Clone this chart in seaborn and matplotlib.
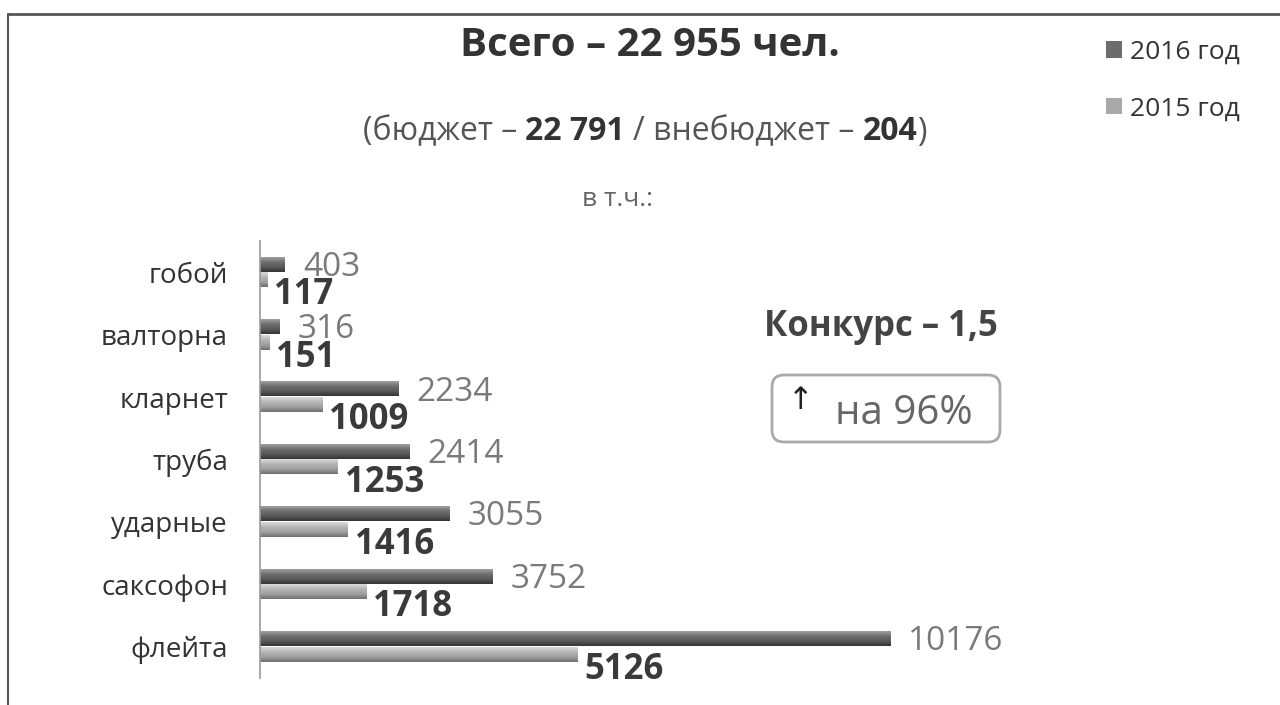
import matplotlib
matplotlib.use("Agg")
import matplotlib.pyplot as plt
import numpy as np
import pandas as pd
import seaborn as sns
from matplotlib.colors import LinearSegmentedColormap
from matplotlib.lines import Line2D
from matplotlib.patches import FancyBboxPatch
from matplotlib.transforms import IdentityTransform

instruments = ["гобой", "валторна", "кларнет", "труба", "ударные", "саксофон", "флейта"]
values_2016 = [403, 316, 2234, 2414, 3055, 3752, 10176]
values_2015 = [117, 151, 1009, 1253, 1416, 1718, 5126]
years = ["2016 год", "2015 год"]

sns.set_theme(style="white")
plt.rcParams["font.family"] = ["Open Sans", "DejaVu Sans"]

W, H = 1280, 705
fig = plt.figure(figsize=(W / 100, H / 100), dpi=100)
ax = fig.add_axes([260 / W, 1 - 678 / H, 743 / W, (678 - 241) / H])

df = pd.DataFrame({
    "instrument": instruments * 2,
    "value": values_2016 + values_2015,
    "year": [years[0]] * len(instruments) + [years[1]] * len(instruments),
})

palette = {years[0]: "#6c6c6c", years[1]: "#a9a9a9"}
sns.barplot(data=df, y="instrument", x="value", hue="year", hue_order=years,
            palette=palette, orient="h", width=0.5, gap=0.08, ax=ax,
            edgecolor="none", saturation=1)

# cylinder-like shading on each bar
cmaps = [
    LinearSegmentedColormap.from_list("d", ["#a0a0a0", "#6e6e6e", "#5a5a5a", "#353535"]),
    LinearSegmentedColormap.from_list("l", ["#dadada", "#b4b4b4", "#a0a0a0", "#707070"]),
]
grad = np.linspace(0, 1, 32).reshape(-1, 1)
series = [values_2016, values_2015]
for k, cont in enumerate(ax.containers):
    for patch, val in zip(cont.patches, series[k]):
        x0, y0 = patch.get_x(), patch.get_y()
        w, h = patch.get_width(), patch.get_height()
        ax.imshow(grad, extent=(x0, x0 + w, y0 + h, y0), aspect="auto",
                  cmap=cmaps[k], zorder=patch.get_zorder() + 0.1)
        yc = y0 + h / 2
        if k == 0:
            ax.annotate(f"{val}", (x0 + w, yc), xytext=(13, -2), textcoords="offset points",
                        ha="left", va="center", fontsize=24, color="#7a7a7a")
        else:
            ax.annotate(f"{val}", (x0 + w, yc), xytext=(5, -11), textcoords="offset points",
                        ha="left", va="center", fontsize=25, fontweight="bold", color="#3a3a3a")
ax.set_xlim(0, 12000)
ax.set_ylim(len(instruments) - 0.5, -0.5)

for side in ["top", "right", "bottom"]:
    ax.spines[side].set_visible(False)
ax.spines["left"].set_color("#9a9a9a")
ax.spines["left"].set_linewidth(1.2)
ax.set_xticks([])
ax.set_xlabel("")
ax.set_ylabel("")
ax.tick_params(axis="y", length=0, pad=23, labelsize=20, labelcolor="#333333")

sns.move_legend(ax, "upper left", bbox_to_anchor=(1082 / W, 1 - 16 / H),
                bbox_transform=fig.transFigure, frameon=False, title=None,
                fontsize=19, handlelength=0.6, handleheight=0.6,
                handletextpad=0.3, labelspacing=1.2)
for t in ax.get_legend().get_texts():
    t.set_color("#333333")

# titles
fig.text(650 / W, 1 - 45 / H, "Всего – 22 955 чел.", ha="center", va="center",
         fontsize=29, fontweight="bold", color="#333333")

renderer = fig.canvas.get_renderer()


def draw_runs(runs, xc, yc, size):
    """runs: (text, weight, color, space_before)"""
    probe_a = fig.text(0, 0, "a a", fontsize=size)
    probe_b = fig.text(0, 0, "aa", fontsize=size)
    space = probe_a.get_window_extent(renderer).width - probe_b.get_window_extent(renderer).width
    probe_a.remove()
    probe_b.remove()
    items = []
    for s, weight, color, sp in runs:
        t = fig.text(0, yc, s, fontsize=size, fontweight=weight, color=color, va="center")
        items.append((t, t.get_window_extent(renderer).width, space if sp else -1))
    total = sum(w + g for _, w, g in items)
    x = xc * W - total / 2
    for t, w, g in items:
        x += g
        t.set_x(x / W)
        x += w


draw_runs([("(бюджет –", "normal", "#555555", False),
           ("22 791", "bold", "#333333", True),
           ("/ внебюджет –", "normal", "#555555", True),
           ("204", "bold", "#333333", True),
           (")", "normal", "#555555", False)],
          645 / W, 1 - 132 / H, 23)

fig.text(617 / W, 1 - 200 / H, "в т.ч.:", ha="center", va="center",
         fontsize=19, color="#666666")

fig.text(881 / W, 1 - 327 / H, "Конкурс – 1,5", ha="center", va="center",
         fontsize=25, fontweight="bold", color="#444444")

box = FancyBboxPatch((772, H - 442), 228, 67, boxstyle="round,pad=0,rounding_size=12",
                     transform=IdentityTransform(), facecolor="white",
                     edgecolor="#aaaaaa", linewidth=2)
fig.add_artist(box)
fig.text(801 / W, 1 - 400 / H, "↑", ha="center", va="center", fontsize=22,
         color="#222222", family=["DejaVu Sans"])
fig.text(904 / W, 1 - 414 / H, "на 96%", ha="center", va="center",
         fontsize=29, color="#666666")

# outer frame
fig.add_artist(Line2D([8 / W, 1], [1 - 14 / H, 1 - 14 / H], transform=fig.transFigure,
                      color="#555555", linewidth=2))
fig.add_artist(Line2D([8 / W, 8 / W], [0, 1 - 14 / H], transform=fig.transFigure,
                      color="#555555", linewidth=1.5))

fig.savefig("out.png", dpi=100, facecolor="white")
